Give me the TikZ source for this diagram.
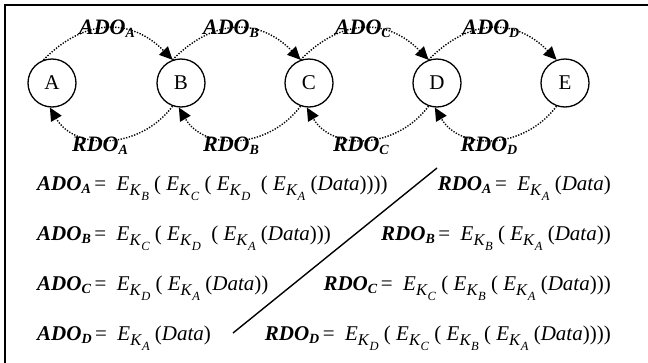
\documentclass[tikz,border=0pt]{standalone}
\usepackage{fontspec}
\setmainfont{Liberation Serif}
\usetikzlibrary{arrows.meta}
\newcommand\bi[1]{\textbf{\textit{#1}}}
\newcommand\lbl[2]{\bi{#1}\raisebox{-3.5pt}{\fontsize{14}{14}\selectfont\bi{#2}}}
\newcommand\EK[1]{\textit{E}\raisebox{-5pt}{\fontsize{16.5}{16.5}\selectfont\textit{K}\raisebox{-5pt}{\fontsize{12.5}{12.5}\selectfont\textit{#1}}}}
\begin{document}
\begin{tikzpicture}[x=1pt,y=-1pt,
  station/.style={circle,draw,line width=1.3pt,minimum size=48pt,inner sep=0pt,font=\fontsize{21}{21}\selectfont},
  flow/.style={line width=1.4pt,dash pattern=on 1.3pt off 1.5pt,-{Triangle[length=13pt,width=12pt]}},
  tag/.style={font=\fontsize{22}{22}\selectfont,inner sep=0pt,anchor=base},
  eql/.style={font=\fontsize{21}{21}\selectfont,inner sep=0pt,anchor=base west},
  eqr/.style={font=\fontsize{21}{21}\selectfont,inner sep=0pt,anchor=base east}]
\useasboundingbox (0,0) rectangle (648,362);
\draw[line width=2pt] (4.5,400) -- (4.5,4.5) -- (700,4.5);

\node[station] (A) at (52,83) {A};
\node[station] (B) at (181,83) {B};
\node[station] (C) at (309,83) {C};
\node[station] (D) at (437,83) {D};
\node[station] (E) at (565,83) {E};

\foreach \p/\q/\s/\lx/\rx in {A/B/A/107/100, B/C/B/231/231, C/D/C/363/361, D/E/D/491/489}{
  \draw[flow] (\p.110) .. controls +(41,-42) and +(-41,-42) .. (\q.110);
  \draw[flow] (\q.250) .. controls +(-33,44) and +(25,43) .. (\p.265);
  \node[tag] (ado\s) at (\lx,34) {\lbl{ADO}{\s}};
  \node[tag] (rdo\s) at (\rx,151) {\lbl{RDO}{\s}};
}

\node[eql] (la) at (37,190) {\lbl{ADO}{A}\,= \ \EK{B} ( \EK{C} ( \EK{D} \ ( \EK{A} (\textit{Data}))))};
\node[eql] (lb) at (37,240) {\lbl{ADO}{B}\,= \ \EK{C} ( \EK{D} \ ( \EK{A} (\textit{Data})))};
\node[eql] (lc) at (37,290) {\lbl{ADO}{C}\,= \ \EK{D} ( \EK{A} (\textit{Data}))};
\node[eql] (ld) at (37,340) {\lbl{ADO}{D}\,= \ \EK{A} (\textit{Data})};

\node[eqr] (ra) at (611,190) {\lbl{RDO}{A}\,= \ \EK{A} (\textit{Data})};
\node[eqr] (rb) at (611,240) {\lbl{RDO}{B}\,= \ \EK{B} ( \EK{A} (\textit{Data}))};
\node[eqr] (rc) at (611,290) {\lbl{RDO}{C}\,= \ \EK{C} ( \EK{B} ( \EK{A} (\textit{Data})))};
\node[eqr] (rd) at (611,340) {\lbl{RDO}{D}\,= \ \EK{D} ( \EK{C} ( \EK{B} ( \EK{A} (\textit{Data}))))};

\coordinate (s1) at (437,168);
\coordinate (s2) at (233,333);
\draw[line width=1.4pt] (s1) -- (s2);
\end{tikzpicture}
\end{document}
